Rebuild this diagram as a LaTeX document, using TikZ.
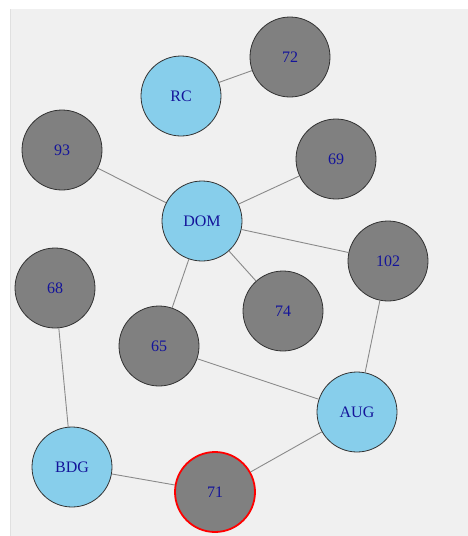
\documentclass[tikz,border=0pt]{standalone}
\usepackage{fontspec}
\setmainfont{Liberation Serif}
\definecolor{panelcolor}{HTML}{F0F0F0}
\definecolor{edgecolor}{HTML}{8A8A8A}
\definecolor{keycolor}{HTML}{87CEEB}
\definecolor{ordercolor}{HTML}{808080}
\definecolor{rimcolor}{HTML}{333333}
\definecolor{labelcolor}{HTML}{14149A}

\begin{document}
\begin{tikzpicture}[
    x=1pt, y=-1pt,
    line join=round,
    vertex/.style={circle, draw=rimcolor, line width=0.8pt, minimum size=80pt,
        inner sep=0pt, text=labelcolor, font=\fontsize{16}{19}\selectfont},
    keynode/.style={vertex, fill=keycolor},
    ordernode/.style={vertex, fill=ordercolor},
    marked/.style={draw=red, line width=1.8pt},
    link/.style={edgecolor, line width=0.9pt}
]

    % Panel Background
    \useasboundingbox (0, 0) rectangle (468, 536);
    \fill[white] (0, 0) rectangle (468, 536);
    \fill[panelcolor] (11, 9) rectangle (468, 536);
    \draw[white!88!black, line width=0.8pt] (10.5, 9) -- (10.5, 536);

    % Nodes
    \node[ordernode] (n72) at (290, 57) {72};
    \node[keynode] (rc) at (181, 96) {RC};
    \node[ordernode] (n93) at (62, 150) {93};
    \node[ordernode] (n69) at (336, 159) {69};
    \node[keynode] (dom) at (202, 221) {DOM};
    \node[ordernode] (n102) at (388, 261) {102};
    \node[ordernode] (n68) at (55, 288) {68};
    \node[ordernode] (n74) at (283, 311) {74};
    \node[ordernode] (n65) at (159, 346) {65};
    \node[keynode] (aug) at (357, 412) {AUG};
    \node[keynode] (bdg) at (72, 467) {BDG};
    \node[ordernode, marked] (n71) at (215, 492) {71};

    % Edges
    \draw[link] (rc) -- (n72);
    \draw[link] (n93) -- (dom);
    \draw[link] (dom) -- (n69);
    \draw[link] (dom) -- (n102);
    \draw[link] (dom) -- (n74);
    \draw[link] (dom) -- (n65);
    \draw[link] (n68) -- (bdg);
    \draw[link] (n102) -- (aug);
    \draw[link] (n65) -- (aug);
    \draw[link] (aug) -- (n71);
    \draw[link] (bdg) -- (n71);

\end{tikzpicture}
\end{document}
